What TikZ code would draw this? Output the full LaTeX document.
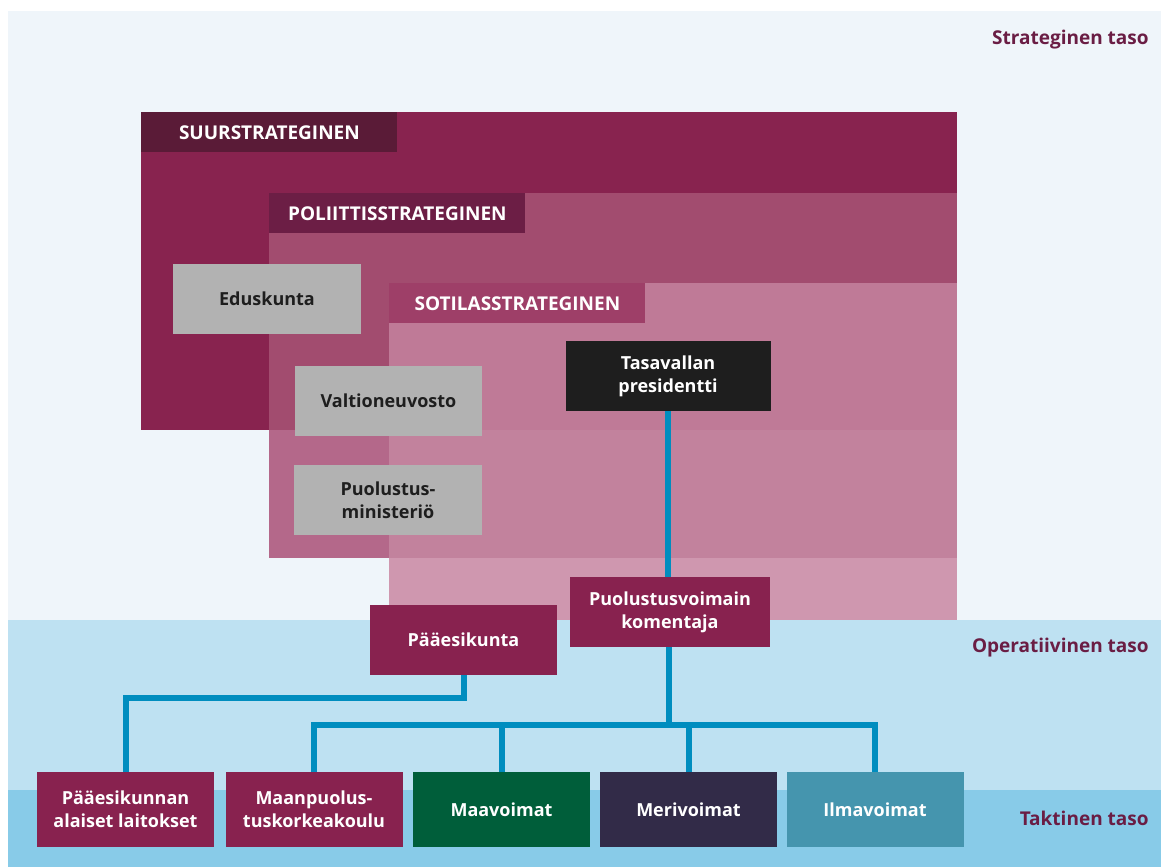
\documentclass[tikz,border=0pt]{standalone}
\usepackage{fontspec}
\setmainfont{Open Sans}
\usetikzlibrary{positioning}
\definecolor{bgtop}{HTML}{EFF5FA}
\definecolor{bgop}{HTML}{BEE1F2}
\definecolor{bgtac}{HTML}{88CBE8}
\definecolor{suur}{HTML}{88234F}
\definecolor{suurhead}{HTML}{5A1B37}
\definecolor{polhead}{HTML}{6C1E45}
\definecolor{polsuur}{HTML}{A24C6F}
\definecolor{pol}{HTML}{B4688A}
\definecolor{sothead}{HTML}{9E3F68}
\definecolor{sotall}{HTML}{BF7A97}
\definecolor{sotpol}{HTML}{C2829D}
\definecolor{sot}{HTML}{CF97AF}
\definecolor{govgrey}{HTML}{B2B2B2}
\definecolor{nearblack}{HTML}{1E1E1E}
\definecolor{unit}{HTML}{88224F}
\definecolor{army}{HTML}{005E3A}
\definecolor{navy}{HTML}{322B48}
\definecolor{airforce}{HTML}{4595AE}
\definecolor{linkblue}{HTML}{008DBF}
\definecolor{levtext}{HTML}{6A1D44}
\begin{document}
\begin{tikzpicture}[x=0.5pt, y=-0.5pt,
	every node/.style={font=\bfseries\fontsize{9}{11.5}\selectfont, align=center, inner sep=0pt},
	box/.style={rectangle, minimum height=35pt, text=white, fill=unit},
	govbox/.style={box, fill=govgrey, text=nearblack, minimum width=94pt},
	branch/.style={box, minimum width=88.5pt, minimum height=37.5pt},
	head/.style={rectangle, fill=#1, text=white, anchor=north west, minimum width=128pt, minimum height=20pt, font=\bfseries\fontsize{9.5}{11}\selectfont},
	level/.style={anchor=east, text=levtext, font=\bfseries\fontsize{9.5}{11}\selectfont},
	link/.style={draw=linkblue, line width=3pt}]
	\useasboundingbox (0,0) rectangle (1161,867);
	\fill[bgtop] (8,11) rectangle (1161,620);
	\fill[bgop] (8,620) rectangle (1161,790);
	\fill[bgtac] (8,790) rectangle (1161,867);

	% strategy layers
	\fill[suur] (141,112) rectangle (957,430);
	\fill[polsuur] (269,193) rectangle (957,430);
	\fill[pol] (269,430) rectangle (957,558);
	\fill[sotall] (389,283) rectangle (957,430);
	\fill[sotpol] (389,430) rectangle (957,558);
	\fill[sot] (389,558) rectangle (957,620);

	\node[head=suurhead] (suurh) at (141,112) {SUURSTRATEGINEN};
	\node[head=polhead] (polh) at (269,193) {POLIITTISSTRATEGINEN};
	\node[head=sothead] (soth) at (389,283) {SOTILASSTRATEGINEN};

	\node[level] (strat) at (1149,40) {Strateginen taso};
	\node[level] (oper) at (1149,648) {Operatiivinen taso};
	\node[level] (takt) at (1149,818) {Taktinen taso};

	\node[govbox] (edk) at (267,299) {Eduskunta};
	\node[govbox, minimum width=93.5pt] (vn) at (388.5,401) {Valtioneuvosto};
	\node[govbox] (plm) at (388,500) {Puolustus-\\ministeriö};
	\node[box, fill=nearblack, minimum width=102.5pt] (tp) at (668,376) {Tasavallan\\presidentti};
	\node[box, minimum width=100pt] (kom) at (670,612) {Puolustusvoimain\\komentaja};
	\node[box, minimum width=93.5pt] (pe) at (463.5,639.5) {Pääesikunta};

	\node[branch] (pal) at (125.5,809.5) {Pääesikunnan\\alaiset laitokset};
	\node[branch] (mpk) at (314,809.5) {Maanpuolus-\\tuskorkeakoulu};
	\node[branch, fill=army] (maa) at (501.5,809.5) {Maavoimat};
	\node[branch, fill=navy] (meri) at (688.5,809.5) {Merivoimat};
	\node[branch, fill=airforce] (ilma) at (875,809.5) {Ilmavoimat};

	\coordinate (bus) at (669,725);
	\coordinate (pebus) at (464,698);

	\draw[link] (tp.south) -- (tp.south |- kom.north);
	\draw[link] (kom.south -| bus) -- (bus);
	\draw[link] (mpk.north) |- (ilma.north |- bus) -- (ilma.north);
	\draw[link] (maa.north) -- (maa.north |- bus);
	\draw[link] (meri.north) -- (meri.north |- bus);
	\draw[link] (pe.south -| pebus) -- (pebus) -| (pal.north);
\end{tikzpicture}
\end{document}
